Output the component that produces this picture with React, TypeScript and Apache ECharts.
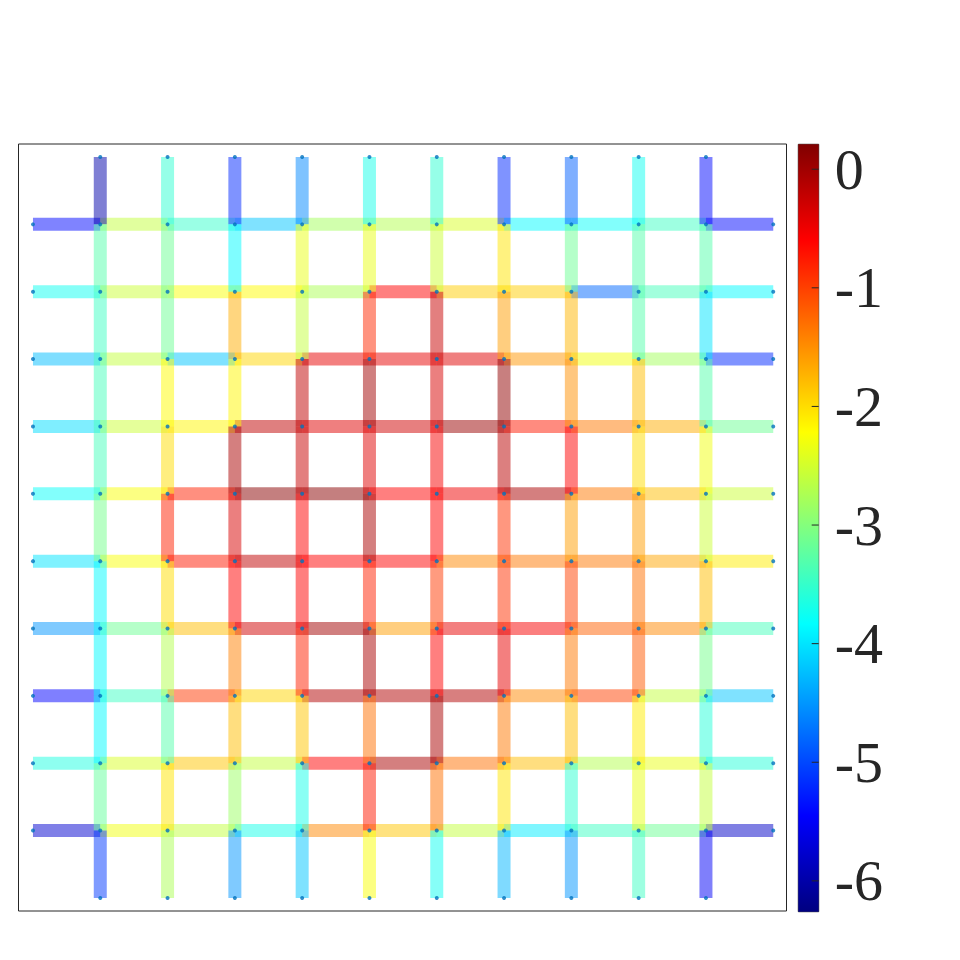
import React, { useEffect, useRef } from "react";
import * as echarts from "echarts";

// Horizontal edge values: row r = 1..10 (top to bottom), segments from column c to c+1, c = 0..10
const H_ROW1 = [-5.4, -2.6, -3.5, -4.2, -2.8, -2.7, -2.45, -3.85, -3.8, -3.45, -5.4];
const H_ROW2 = [-3.75, -2.55, -2.25, -2.2, -2.75, -0.6, -1.9, -1.9, -4.8, -3.4, -3.85];
const H_ROW3 = [-4.25, -2.6, -4.2, -1.95, -0.45, -0.45, -0.4, -1.55, -2.3, -2.8, -5.2];
const H_ROW4 = [-4.05, -2.55, -2.15, -0.2, -0.4, -0.3, 0.05, -0.75, -1.35, -1.7, -3.15];
const H_ROW5 = [-3.8, -2.25, -0.8, 0.15, 0.15, -0.6, -0.5, -0.05, -1.35, -1.8, -2.55];
const H_ROW6 = [-4.0, -2.25, -0.75, -0.2, -0.6, -0.6, -1.45, -1.35, -1.35, -1.65, -2.1];
const H_ROW7 = [-4.5, -3.15, -1.8, -0.3, 0.0, -1.6, -0.45, -0.55, -1.2, -1.45, -3.4];
const H_ROW8 = [-5.45, -3.45, -0.95, -1.95, -0.1, -0.1, -0.1, -1.45, -1.0, -2.6, -4.2];
const H_ROW9 = [-3.65, -2.45, -1.85, -2.6, -0.6, -0.05, -1.3, -1.8, -2.7, -2.35, -3.6];
const H_ROW10 = [-5.75, -2.3, -2.6, -3.7, -1.45, -1.85, -2.6, -3.95, -3.45, -3.15, -5.8];

// Vertical edge values: column c = 1..10 (left to right), segments from row r to r+1, r = 0..10
const V_COL1 = [-6.0, -3.3, -3.45, -3.4, -3.4, -3.1, -3.85, -3.85, -3.85, -3.2, -5.1];
const V_COL2 = [-3.55, -3.15, -3.15, -2.2, -2.0, -0.8, -2.0, -2.7, -3.3, -2.05, -2.75];
const V_COL3 = [-5.2, -3.85, -1.7, -2.15, -0.05, -0.35, -0.6, -1.4, -1.8, -2.85, -4.5];
const V_COL4 = [-4.6, -2.35, -2.6, -0.2, -0.25, -0.6, -0.6, -0.8, -1.85, -3.7, -4.2];
const V_COL5 = [-3.7, -2.35, -0.85, 0.0, -0.4, -0.05, -0.8, -0.05, -1.3, -0.75, -2.25];
const V_COL6 = [-3.55, -2.55, -0.25, -0.35, -0.55, -0.6, -0.95, -0.6, -0.05, -1.3, -3.75];
const V_COL7 = [-5.2, -2.05, -1.6, 0.1, -0.15, -0.9, -0.9, -0.45, -1.35, -2.05, -4.3];
const V_COL8 = [-4.85, -3.15, -1.75, -1.5, -0.6, -1.6, -1.0, -1.35, -1.8, -3.55, -4.5];
const V_COL9 = [-3.75, -3.3, -3.3, -1.8, -2.0, -1.6, -1.3, -1.15, -2.1, -2.35, -3.45];
const V_COL10 = [-5.4, -3.3, -4.0, -3.3, -2.3, -2.55, -1.8, -3.1, -3.6, -2.6, -5.5];

const H_ROWS = [H_ROW1, H_ROW2, H_ROW3, H_ROW4, H_ROW5, H_ROW6, H_ROW7, H_ROW8, H_ROW9, H_ROW10];
const V_COLS = [V_COL1, V_COL2, V_COL3, V_COL4, V_COL5, V_COL6, V_COL7, V_COL8, V_COL9, V_COL10];

// Colour scale
const CB_MIN = -6.26;
const CB_MAX = 0.21;
const CB_TICKS = [-6, -5, -4, -3, -2, -1, 0];
const JET = [
  "#000080", "#0000ff", "#0080ff", "#00ffff", "#80ff80",
  "#ffff00", "#ff8000", "#ff0000", "#800000",
];

const N = 12; // node positions 0..11 in each direction

export default function App() {
  const ref = useRef<HTMLDivElement>(null);

  useEffect(() => {
    if (!ref.current) return;
    const chart = echarts.init(ref.current, null, { renderer: "svg" });

    const edges: number[][] = [];
    H_ROWS.forEach((vals, i) => {
      const r = i + 1;
      vals.forEach((v, c) => edges.push([c, r, c + 1, r, v]));
    });
    V_COLS.forEach((vals, i) => {
      const c = i + 1;
      vals.forEach((v, r) => edges.push([c, r, c, r + 1, v]));
    });

    const nodes: number[][] = [];
    for (let r = 0; r < N; r++) {
      for (let c = 0; c < N; c++) {
        const corner = (r === 0 || r === N - 1) && (c === 0 || c === N - 1);
        if (!corner) nodes.push([c, r]);
      }
    }

    const option = {
      animation: false,
      backgroundColor: "#ffffff",
      grid: [
        {
          left: 18.5, top: 144, width: 768, height: 767,
          show: true, borderColor: "#262626", borderWidth: 1, backgroundColor: "#ffffff",
        },
        {
          left: 798.3, top: 144.3, width: 20.4, height: 767.4,
          show: true, borderColor: "#262626", borderWidth: 1,
        },
      ],
      xAxis: [
        { type: "value", gridIndex: 0, min: -0.215, max: 11.197, show: false },
        { type: "value", gridIndex: 1, min: 0, max: 1, show: false },
      ],
      yAxis: [
        { type: "value", gridIndex: 0, min: -0.193, max: 11.194, inverse: true, show: false },
        {
          type: "value", gridIndex: 1, min: CB_MIN, max: CB_MAX, position: "right",
          axisLine: { show: false },
          splitLine: { show: false },
          axisTick: { show: false },
          axisLabel: {
            show: true, customValues: CB_TICKS, margin: 16,
            fontFamily: "'Liberation Serif', 'Times New Roman', serif", fontSize: 58, color: "#262626",
            formatter: (v: number) => String(v),
          },
        },
      ],
      visualMap: {
        type: "continuous", show: false, seriesIndex: 0, dimension: 4,
        min: CB_MIN, max: CB_MAX, inRange: { color: JET },
      },
      series: [
        {
          type: "custom",
          xAxisIndex: 0, yAxisIndex: 0,
          encode: { x: [0, 2], y: [1, 3] },
          data: edges,
          renderItem: (params: any, api: any) => {
            const p1 = api.coord([api.value(0), api.value(1)]);
            const p2 = api.coord([api.value(2), api.value(3)]);
            return {
              type: "line",
              shape: { x1: p1[0], y1: p1[1], x2: p2[0], y2: p2[1] },
              style: { stroke: api.visual("color"), lineWidth: 13, opacity: 0.5, lineCap: "butt" },
            };
          },
          silent: true,
        },
        {
          type: "scatter",
          xAxisIndex: 0, yAxisIndex: 0,
          data: nodes,
          symbol: "circle",
          symbolSize: 4,
          itemStyle: { color: "#0072BD" },
          silent: true,
        },
        {
          type: "custom",
          xAxisIndex: 1, yAxisIndex: 1,
          encode: { x: [0, 2], y: [1, 3] },
          data: [[0, CB_MIN, 1, CB_MAX]],
          renderItem: (params: any, api: any) => {
            const pTop = api.coord([api.value(0), api.value(3)]);
            const pBot = api.coord([api.value(2), api.value(1)]);
            return {
              type: "rect",
              shape: { x: pTop[0], y: pTop[1], width: pBot[0] - pTop[0], height: pBot[1] - pTop[1] },
              style: {
                fill: new echarts.graphic.LinearGradient(
                  0, 1, 0, 0,
                  JET.map((c, i) => ({ offset: i / (JET.length - 1), color: c }))
                ),
              },
            };
          },
          silent: true,
          z: 1,
        },
        {
          type: "custom",
          xAxisIndex: 1, yAxisIndex: 1,
          encode: { x: 0, y: 1 },
          data: CB_TICKS.map((t) => [1, t]),
          renderItem: (params: any, api: any) => {
            const p = api.coord([api.value(0), api.value(1)]);
            return {
              type: "line",
              shape: { x1: p[0] - 7, y1: p[1], x2: p[0], y2: p[1] },
              style: { stroke: "#262626", lineWidth: 1 },
            };
          },
          silent: true,
          z: 3,
        },
      ],
    };

    chart.setOption(option as any);
    return () => chart.dispose();
  }, []);

  return (
    <div
      ref={ref}
      style={{ position: "absolute", left: 0, top: 0, width: 960, height: 960, background: "#fff" }}
    />
  );
}
